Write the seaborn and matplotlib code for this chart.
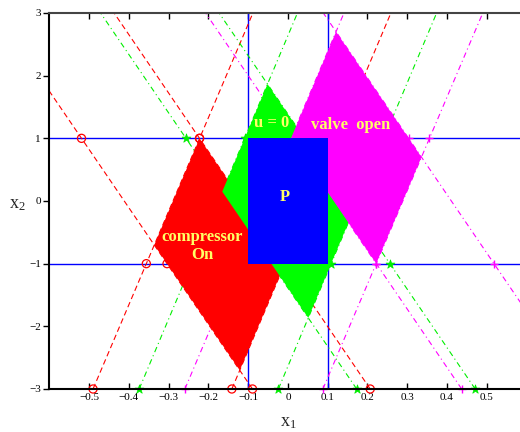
import numpy as np
import pandas as pd
import matplotlib
matplotlib.use("Agg")
import matplotlib.pyplot as plt
import seaborn as sns

# Boundary lines of each region, given by the x where each line meets y=-3 and y=+3.
# order: [falling edge 1, falling edge 2, rising edge 1, rising edge 2]
red_x_at_bottom = [-0.089, 0.207, -0.490, -0.141]
red_x_at_top = [-0.734, -0.437, -0.088, 0.259]
green_x_at_bottom = [0.173, 0.471, -0.374, -0.024]
green_x_at_top = [-0.471, -0.173, 0.024, 0.374]
magenta_x_at_bottom = [0.437, 0.733, -0.259, 0.088]
magenta_x_at_top = [-0.207, 0.089, 0.141, 0.490]

box_x = [-0.1, 0.1]
box_y = [-1.0, 1.0]
marker_levels = [1.0, -1.0, -3.0]

x_ticks = [-0.5, -0.4, -0.3, -0.2, -0.1, 0, 0.1, 0.2, 0.3, 0.4, 0.5]
x_tick_labels = ["\u22120.5", "\u22120.4", "\u22120.3", "\u22120.2", "\u22120.1", "0",
                 "0.1", "0.2", "0.3", "0.4", "0.5"]
y_ticks = [-3, -2, -1, 0, 1, 2, 3]
y_tick_labels = ["\u22123", "\u22122", "\u22121", "0", "1", "2", "3"]

region_labels = ["compressor", "On", "u = 0", "valve  open", "P"]
label_x = [-0.215, -0.215, -0.041, 0.157, -0.008]
label_y = [-0.57, -0.86, 1.24, 1.21, 0.07]

Y_LO, Y_HI = -3.0, 3.0

sns.set_theme(style="white")
plt.rcParams["font.family"] = ["Liberation Serif", "DejaVu Serif"]
plt.rcParams["mathtext.fontset"] = "custom"
plt.rcParams["mathtext.rm"] = "Liberation Serif"

fig = plt.figure(figsize=(5.2, 4.32), dpi=100)
ax = fig.add_axes([49.3 / 520, 43 / 432, 477.2 / 520, 376 / 432])
ax.set_xlim(-0.6, 0.6)
ax.set_ylim(Y_LO, Y_HI)


def x_on_line(xb, xt, y):
    return xb + (y - Y_LO) / (Y_HI - Y_LO) * (xt - xb)


def line_frame(xb_list, xt_list):
    rows = []
    for i, (xb, xt) in enumerate(zip(xb_list, xt_list)):
        rows.append({"line": i, "x": xb, "y": Y_LO})
        rows.append({"line": i, "x": xt, "y": Y_HI})
    return pd.DataFrame(rows)


def marker_frame(xb_list, xt_list):
    rows = []
    for xb, xt in zip(xb_list, xt_list):
        for yv in marker_levels:
            rows.append({"x": x_on_line(xb, xt, yv), "y": yv})
    return pd.DataFrame(rows)


def vertices(xb_list, xt_list):
    def meet(f, r):
        df = xt_list[f] - xb_list[f]
        dr = xt_list[r] - xb_list[r]
        t = (xb_list[r] - xb_list[f]) / (df - dr)
        return xb_list[f] + t * df, Y_LO + t * (Y_HI - Y_LO)
    pts = [meet(1, 2), meet(0, 2), meet(0, 3), meet(1, 3)]
    return [p[0] for p in pts], [p[1] for p in pts]


# blue reference lines
for yv in box_y:
    ax.axhline(yv, color="#0000ff", lw=1.0, zorder=1)
for xv in box_x:
    ax.axvline(xv, color="#0000ff", lw=1.0, zorder=1)

specs = [
    (red_x_at_bottom, red_x_at_top, "#ff0000", (5, 3), "o"),
    (green_x_at_bottom, green_x_at_top, "#00ee00", (5, 3, 1, 3), "*"),
    (magenta_x_at_bottom, magenta_x_at_top, "#ff00ff", (5, 3, 1, 3), "+"),
]

for xb, xt, col, dash, mk in specs:
    df = line_frame(xb, xt)
    sns.lineplot(data=df, x="x", y="y", units="line", estimator=None, sort=False,
                 color=col, lw=0.8, dashes=False, ax=ax, zorder=1.5,
                 legend=False)
    for ln in ax.lines[-len(xb):]:
        ln.set_dashes(dash)
    md = marker_frame(xb, xt)
    if mk == "o":
        sns.scatterplot(data=md, x="x", y="y", marker="o", s=34, facecolor="none",
                        edgecolor=col, linewidth=0.9, ax=ax, zorder=2,
                        clip_on=False, legend=False)
    elif mk == "*":
        sns.scatterplot(data=md, x="x", y="y", marker="*", s=45, color=col,
                        edgecolor=col, linewidth=0.5, ax=ax, zorder=2,
                        clip_on=False, legend=False)
    else:
        sns.scatterplot(data=md, x="x", y="y", marker="+", s=30, color=col,
                        linewidth=1.0, ax=ax, zorder=2, clip_on=False,
                        legend=False)

# regions
for xb, xt, col, z in [(red_x_at_bottom, red_x_at_top, "#ff0000", 3),
                       (green_x_at_bottom, green_x_at_top, "#00ff00", 3.1),
                       (magenta_x_at_bottom, magenta_x_at_top, "#ff00ff", 3.2)]:
    vx, vy = vertices(xb, xt)
    ax.fill(vx, vy, color=col, lw=0, zorder=z)

ax.fill([box_x[0], box_x[1], box_x[1], box_x[0]],
        [box_y[0], box_y[0], box_y[1], box_y[1]], color="#0000ff", lw=0, zorder=3.5)

for t, lx, ly in zip(region_labels, label_x, label_y):
    ax.text(lx, ly, t, color="#ffff66", fontsize=12, fontweight="bold",
            ha="center", va="center", zorder=5)

ax.set_xticks(x_ticks)
ax.set_xticklabels(x_tick_labels)
ax.set_yticks(y_ticks)
ax.set_yticklabels(y_tick_labels)
ax.tick_params(axis="x", direction="in", length=4, width=1, top=True, bottom=True,
               labelsize=8, pad=3, colors="black")
ax.tick_params(axis="y", direction="out", length=4, width=1, left=True, right=False,
               labelsize=8, pad=2, colors="black")
for side in ["left", "bottom", "top"]:
    ax.spines[side].set_color("black")
    ax.spines[side].set_linewidth(1.5)
ax.spines["top"].set_color("#444444")
ax.spines["right"].set_visible(False)

ax.set_xlabel(r"$\mathregular{x_1}$", fontsize=13)
ax.set_ylabel(r"$\mathregular{x_2}$", fontsize=13, rotation=0)
ax.xaxis.set_label_coords(0.50, -0.088)
ax.yaxis.set_label_coords(-0.066, 0.49)
ax.xaxis.label.set_va("center")
ax.yaxis.label.set_va("center")
ax.yaxis.label.set_ha("center")

fig.savefig("out.png", dpi=100)
